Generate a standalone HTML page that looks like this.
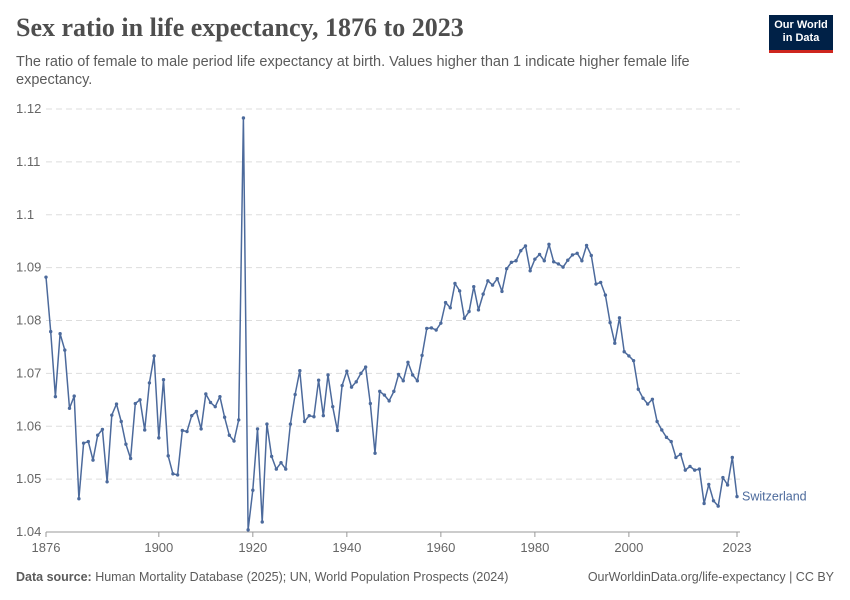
<!DOCTYPE html>
<html><head><meta charset="utf-8"><style>
body{margin:0;background:#fff;font-family:"Liberation Sans",sans-serif;}
#wrap{position:relative;width:850px;height:600px;overflow:hidden;}
.title{position:absolute;left:16px;top:13px;font-family:"Liberation Serif",serif;font-size:26px;font-weight:bold;color:#4e4e4e;}
.sub{position:absolute;left:16px;top:53px;width:720px;font-size:14.5px;line-height:18px;color:#5b5b5b;}
.logo{position:absolute;left:769px;top:15px;width:64px;background:#002147;border-bottom:3px solid #ce261e;color:#fff;font-size:11px;font-weight:bold;text-align:center;line-height:12.5px;padding-top:4px;box-sizing:content-box;height:31px;}
.foot{position:absolute;top:570px;font-size:12.5px;color:#5b5b5b;}
</style></head><body>
<div id="wrap">
<div class="title">Sex ratio in life expectancy, 1876 to 2023</div>
<div class="sub">The ratio of female to male period life expectancy at birth. Values higher than 1 indicate higher female life expectancy.</div>
<div class="logo">Our World<br>in Data</div>
<svg id="chart" width="850" height="600" style="position:absolute;left:0;top:0"></svg>
<div class="foot" style="left:16px"><b>Data source:</b> Human Mortality Database (2025); UN, World Population Prospects (2024)</div>
<div class="foot" style="right:16px">OurWorldinData.org/life-expectancy | CC BY</div>
</div>
<script>
const startYear = 1876;
const values = [1.0882,1.0779,1.0656,1.0775,1.0744,1.0634,1.0657,1.0463,1.0568,1.0571,1.0536,1.0583,1.0594,1.0495,1.0621,1.0642,1.0609,1.0566,1.0539,1.0643,1.0650,1.0593,1.0682,1.0733,1.0578,1.0688,1.0544,1.0510,1.0508,1.0592,1.0590,1.0620,1.0628,1.0595,1.0661,1.0645,1.0637,1.0656,1.0617,1.0583,1.0572,1.0612,1.1183,1.0404,1.0479,1.0595,1.0419,1.0604,1.0543,1.0519,1.0531,1.0519,1.0604,1.0660,1.0705,1.0609,1.0620,1.0618,1.0687,1.0620,1.0697,1.0637,1.0592,1.0677,1.0704,1.0674,1.0684,1.0700,1.0712,1.0643,1.0549,1.0666,1.0659,1.0648,1.0666,1.0698,1.0686,1.0721,1.0697,1.0686,1.0734,1.0785,1.0786,1.0782,1.0795,1.0834,1.0824,1.0870,1.0856,1.0804,1.0817,1.0864,1.0820,1.0850,1.0875,1.0867,1.0879,1.0855,1.0898,1.0910,1.0913,1.0932,1.0941,1.0894,1.0916,1.0925,1.0913,1.0944,1.0911,1.0907,1.0901,1.0914,1.0924,1.0927,1.0913,1.0942,1.0923,1.0869,1.0872,1.0848,1.0796,1.0757,1.0805,1.0741,1.0733,1.0724,1.0670,1.0653,1.0642,1.0651,1.0609,1.0593,1.0579,1.0571,1.0541,1.0547,1.0517,1.0524,1.0517,1.0519,1.0454,1.0490,1.0459,1.0449,1.0503,1.0489,1.0541,1.0467];
const yTicks = [1.04,1.05,1.06,1.07,1.08,1.09,1.1,1.11,1.12];
const yTickLabels = ["1.04","1.05","1.06","1.07","1.08","1.09","1.1","1.11","1.12"];
const xTicks = [1876,1900,1920,1940,1960,1980,2000,2023];
const seriesName = "Switzerland";

const svg = document.getElementById('chart');
const NS = 'http://www.w3.org/2000/svg';
const X0=46,X1=737,Y0=532,Y1=109;
const endYear = startYear + values.length - 1;
function xs(yr){return X0+(yr-startYear)/(endYear-startYear)*(X1-X0);}
function ys(v){return Y0-(v-1.04)/(1.12-1.04)*(Y0-Y1);}
function mk(tag,attrs){const e=document.createElementNS(NS,tag);for(const k in attrs)e.setAttribute(k,attrs[k]);svg.appendChild(e);return e;}

yTicks.forEach((t,i)=>{
  const g=mk('line',{x1:X0,x2:740,y1:ys(t),y2:ys(t),stroke:'#dddddd','stroke-dasharray':i===0?'':'6,4'});
  
  
  const tx=mk('text',{x:16,y:ys(t)+4,'font-size':13,fill:'#666','font-family':'Liberation Sans, sans-serif'});
  tx.textContent=yTickLabels[i];
  
  
});
mk('line',{x1:X0,x2:740,y1:Y0,y2:Y0,stroke:'#999'});
xTicks.forEach(t=>{
  const l=mk('line',{x1:xs(t),x2:xs(t),y1:Y0,y2:Y0+5,stroke:'#999'});
  
  
  const tx=mk('text',{x:xs(t),y:552,'font-size':13,fill:'#666','text-anchor':'middle','font-family':'Liberation Sans, sans-serif'});
  tx.textContent=t;
  
  
});
const pts=values.map((v,i)=>xs(startYear+i).toFixed(1)+','+ys(v).toFixed(1)).join(' ');
const line=mk('polyline',{points:pts,fill:'none',stroke:'#4c6a9c','stroke-width':1.5,'stroke-linejoin':'round'});


values.forEach((v,i)=>{
  const c=mk('circle',{cx:xs(startYear+i),cy:ys(v),r:1.7,fill:'#4c6a9c'});
  
  
});
const lab=mk('text',{x:742,y:ys(values[values.length-1])+4,'font-size':12.5,fill:'#4c6a9c','font-family':'Liberation Sans, sans-serif'});
lab.textContent=seriesName;


</script>
</body></html>
